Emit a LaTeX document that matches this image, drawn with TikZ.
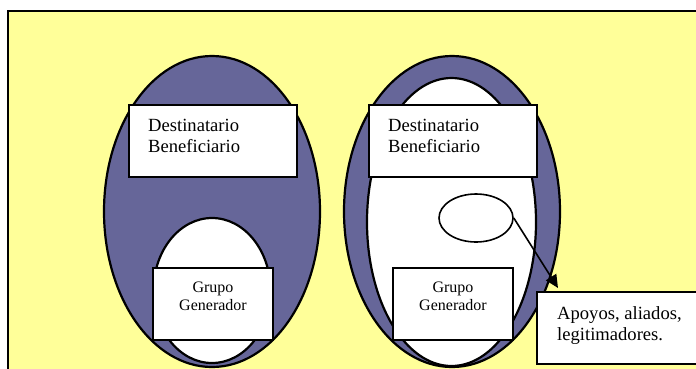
\documentclass[tikz,border=0pt]{standalone}
\usepackage{fontspec}
\setmainfont{Liberation Serif}
\usetikzlibrary{arrows.meta,shapes.geometric,calc}
\definecolor{paleyellow}{HTML}{FFFF99}
\definecolor{slateblue}{HTML}{666699}

\begin{document}
\begin{tikzpicture}[x=1pt,y=-1pt,
  frame/.style={draw=black, line width=2.4pt, fill=paleyellow},
  outer/.style={draw=black, line width=2.2pt, fill=slateblue},
  inner/.style={draw=black, line width=2.2pt, fill=white},
  box/.style={draw=black, line width=2pt, fill=white, inner sep=0pt, anchor=north west},
  bigtext/.style={font=\fontsize{18.6}{21}\selectfont, align=left, inner sep=0pt, anchor=north west},
  smalltext/.style={font=\fontsize{16}{17.5}\selectfont, align=center, inner sep=0pt, anchor=north}]

  \useasboundingbox (0,0) rectangle (696,368);
  \clip (0,0) rectangle (696,368);

  % Yellow background frame
  \draw[frame] (8,11) rectangle (720,400);

  % Define set dimensions
  \def\outerrx{108pt}
  \def\outerry{155.5pt}

  % Left set: generating group inside the beneficiaries
  \draw[outer] (212,211.5) ellipse [x radius=\outerrx, y radius=\outerry];
  \draw[inner] (212,290.5) ellipse [x radius=58.5pt, y radius=72.5pt];

  % Right set: beneficiaries almost filling the whole set
  \draw[outer] (452,211.5) ellipse [x radius=\outerrx, y radius=\outerry];
  \draw[inner] (451.5,222) ellipse [x radius=84.5pt, y radius=144pt];
  \node[ellipse, draw=black, line width=1.6pt, fill=white, minimum width=74pt, minimum height=48pt, inner sep=0pt] (blob) at (476,218) {};

  % Label boxes, left
  \node[box, minimum width=168pt, minimum height=72pt] (dest1) at (128,104) {};
  \node[bigtext] (dest1txt) at ($(dest1.north west)+(20,15)$) {Destinatario\\Beneficiario};
  \node[box, minimum width=120pt, minimum height=72pt] (gen1) at (152,267) {};
  \node[smalltext] (gen1txt) at ($(gen1.north)+(0,15)$) {Grupo\\Generador};

  % Label boxes, right
  \node[box, minimum width=168pt, minimum height=72pt] (dest2) at (368,104) {};
  \node[bigtext] (dest2txt) at ($(dest2.north west)+(20,15)$) {Destinatario\\Beneficiario};
  \node[box, minimum width=120pt, minimum height=72pt] (gen2) at (392,267) {};
  \node[smalltext] (gen2txt) at ($(gen2.north)+(0,15)$) {Grupo\\Generador};

  % Support label and its arrow
  \node[box, minimum width=170pt, minimum height=72pt] (apoyos) at (536,291) {};
  \node[bigtext] (apoyostxt) at ($(apoyos.north west)+(21,15)$) {Apoyos, aliados,\\legitimadores.};
  \coordinate (tip) at ($(apoyos.north west)+(22,-3)$);
  \draw[-{Triangle[length=13pt,width=12pt]}, line width=1.6pt] (blob.east) -- (tip);

\end{tikzpicture}
\end{document}
